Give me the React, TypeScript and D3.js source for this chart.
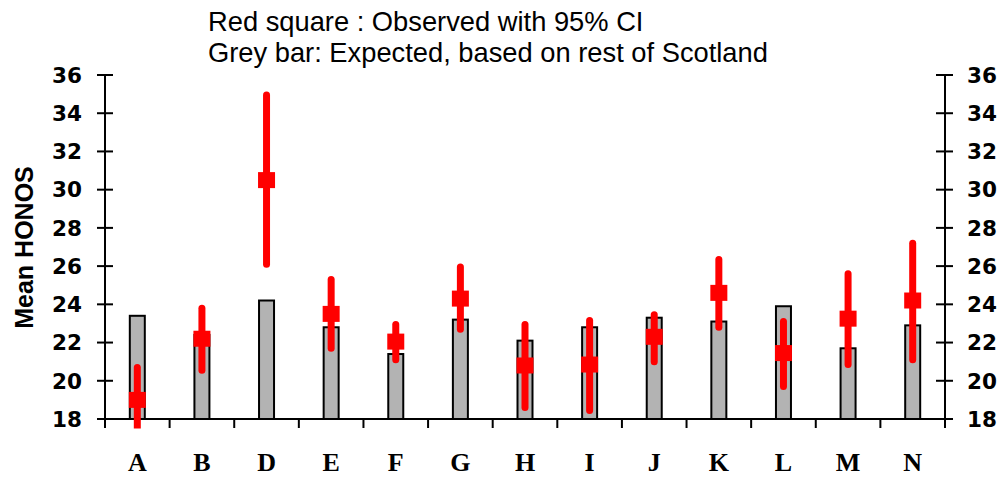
import React from "react";
import * as d3 from "d3";

const categories = ["A", "B", "D", "E", "F", "G", "H", "I", "J", "K", "L", "M", "N"];
const expected = [23.4, 22.4, 24.2, 22.8, 21.4, 23.2, 22.1, 22.8, 23.3, 23.1, 23.9, 21.7, 22.9];
const observed = [19.0, 22.2, 30.5, 23.5, 22.05, 24.3, 20.8, 20.85, 22.3, 24.6, 21.45, 23.25, 24.2];
const ciLower = [17.1, 20.55, 26.1, 21.7, 21.1, 22.7, 18.6, 18.45, 21.0, 22.8, 19.7, 20.85, 21.1];
const ciUpper = [20.7, 23.8, 34.95, 25.3, 22.95, 25.95, 22.95, 23.15, 23.45, 26.35, 23.1, 25.6, 27.2];
const yTicks = [18, 20, 22, 24, 26, 28, 30, 32, 34, 36];
const titleLines = ["Red square : Observed with 95% CI", "Grey bar: Expected, based on rest of Scotland"];

export default function App() {
  const W = 1005, H = 479;
  const left = 105, right = 945, top = 75, bottom = 419;
  const x = d3.scaleBand<string>().domain(categories).range([left, right]).padding(0);
  const y = d3.scaleLinear().domain([18, 36]).range([bottom, top]);
  const bw = 15;
  const sqW = 17, sqH = 16;
  const boundaries = d3.range(categories.length + 1).map((i) => left + i * x.step());

  return (
    <div style={{ position: "absolute", left: 0, top: 0 }}>
      <svg width={W} height={H} style={{ display: "block", background: "#fff" }}>
        <defs>
          <clipPath id="plotclip">
            <rect x={0} y={0} width={W} height={428.5} />
          </clipPath>
        </defs>
        {titleLines.map((t, i) => (
          <text key={i} x={208} y={31 + i * 31} fontFamily="'Liberation Sans', Arial, sans-serif" fontSize={27.3} fill="#000">
            {t}
          </text>
        ))}
        <text
          transform={`translate(33,247.5) rotate(-90)`}
          textAnchor="middle"
          fontFamily="'Liberation Sans', Arial, sans-serif"
          fontWeight="bold"
          fontSize={25}
          fill="#000"
        >
          Mean HONOS
        </text>
        {/* bars */}
        {categories.map((c, i) => (
          <rect
            key={c}
            x={(x(c) as number) + x.bandwidth() / 2 - bw / 2}
            y={y(expected[i])}
            width={bw}
            height={bottom - y(expected[i])}
            fill="#b3b3b3"
            stroke="#000"
            strokeWidth={2}
          />
        ))}
        {/* axes */}
        <line x1={left} x2={right} y1={bottom} y2={bottom} stroke="#000" strokeWidth={2} />
        <line x1={left} x2={left} y1={top} y2={bottom} stroke="#000" strokeWidth={2} />
        <line x1={right} x2={right} y1={top} y2={bottom} stroke="#000" strokeWidth={2} />
        {boundaries.map((bx, i) => (
          <line key={i} x1={bx} x2={bx} y1={bottom} y2={bottom + 9} stroke="#000" strokeWidth={2} />
        ))}
        {yTicks.map((t) => (
          <g key={t}>
            <line x1={left - 8} x2={left + 8} y1={y(t)} y2={y(t)} stroke="#000" strokeWidth={2} />
            <line x1={right - 9} x2={right + 8} y1={y(t)} y2={y(t)} stroke="#000" strokeWidth={2} />
            <text x={82} y={y(t)} dy="0.36em" textAnchor="end" fontFamily="'DejaVu Sans', Verdana, sans-serif" fontWeight="bold" fontSize={21.5} fill="#000">
              {t}
            </text>
            <text x={967} y={y(t)} dy="0.36em" textAnchor="start" fontFamily="'DejaVu Sans', Verdana, sans-serif" fontWeight="bold" fontSize={21.5} fill="#000">
              {t}
            </text>
          </g>
        ))}
        {categories.map((c) => (
          <text key={c} x={(x(c) as number) + x.bandwidth() / 2} y={471} textAnchor="middle" fontFamily="'Liberation Serif', 'Times New Roman', serif" fontWeight="bold" fontSize={26} fill="#000">
            {c}
          </text>
        ))}
        {/* observed */}
        <g clipPath="url(#plotclip)">
          {categories.map((c, i) => {
            const cx = (x(c) as number) + x.bandwidth() / 2;
            return (
              <g key={c}>
                <line x1={cx} x2={cx} y1={y(ciLower[i])} y2={y(ciUpper[i])} stroke="#ff0000" strokeWidth={7} strokeLinecap="round" />
                <rect x={cx - sqW / 2} y={y(observed[i]) - sqH / 2} width={sqW} height={sqH} fill="#ff0000" />
              </g>
            );
          })}
        </g>
      </svg>
    </div>
  );
}
